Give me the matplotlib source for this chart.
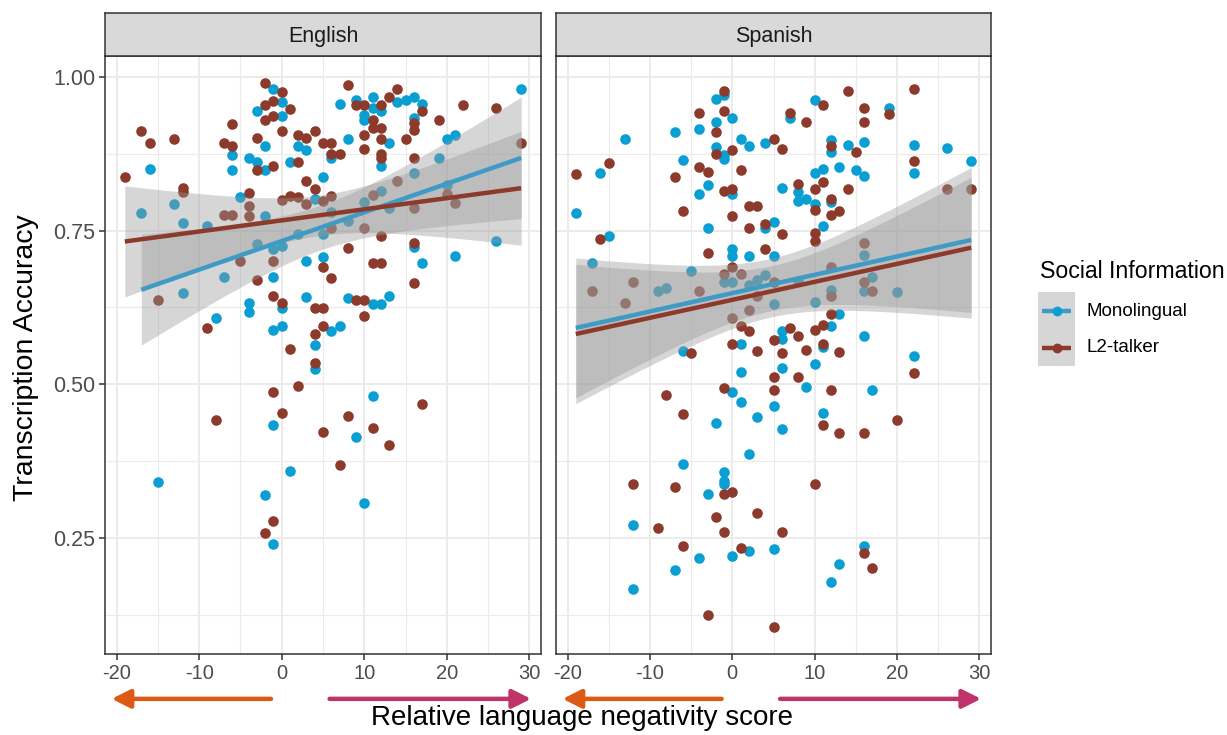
import numpy as np
import matplotlib.pyplot as plt
from matplotlib.patches import Rectangle

plt.rcParams['font.family'] = ['Liberation Sans', 'DejaVu Sans']

# ---- data: relative language negativity score vs transcription accuracy ----
en_mono_x = [-1, 0, -3, 0, -2, 2, 3, -6, -4, -3, -2, 1, -6, -16, 5, -5, -13, 4, -17, -12,
             -2, -9, -3, -1, 0, 2, 5, 3, 5, -1, -7, -12, 0, -4, -4, 3, -8, -1, 0, 4,
             4, -1, 1, -15, -2, -1, 11, 9, 10, 29, 11, 16, 15, 14, 17, 7, 9, 11, 12, 10,
             10, 16, 8, 13, 20, 21, 6, 12, 19, 16, 20, 12, 13, 10, 8, 6, 26, 21, 16, 17,
             8, 13, 11, 12, 6, 7]
en_mono_y = [0.98, 0.96, 0.944, 0.937, 0.887, 0.887, 0.881, 0.873, 0.868, 0.862, 0.849, 0.861,
             0.849, 0.85, 0.838, 0.805, 0.793, 0.802, 0.779, 0.763, 0.774, 0.757, 0.729, 0.72,
             0.725, 0.744, 0.744, 0.70, 0.707, 0.674, 0.675, 0.648, 0.624, 0.632, 0.617, 0.642,
             0.608, 0.588, 0.595, 0.564, 0.525, 0.434, 0.359, 0.34, 0.32, 0.24, 0.48, 0.414,
             0.307, 0.981, 0.968, 0.968, 0.963, 0.96, 0.956, 0.956, 0.963, 0.949, 0.944, 0.939,
             0.93, 0.933, 0.899, 0.892, 0.899, 0.905, 0.868, 0.855, 0.868, 0.843, 0.824, 0.815,
             0.786, 0.797, 0.766, 0.78, 0.733, 0.709, 0.724, 0.697, 0.64, 0.644, 0.631, 0.631,
             0.587, 0.595]

en_l2_x = [-2, 0, -1, -2, 1, -1, -2, -6, -17, 0, -16, -13, -7, -6, -3, 2, 3, 4, 5, -1,
           -3, 2, -19, 3, 4, -12, -12, -4, -4, 0, 1, 2, 3, 5, -7, -6, -4, -1, 5, -3,
           -5, -15, -1, 0, 4, 5, -9, 5, 4, 1, 4, 2, -1, 0, -8, 5, -1, -2, 17, 8,
           11, 13, 7, 8, 14, 13, 9, 10, 12, 22, 26, 11, 17, 19, 16, 16, 11, 12, 10, 12,
           15, 6, 6, 7, 10, 12, 12, 16, 14, 20, 21, 29, 11, 16, 6, 10, 6, 12, 16, 8,
           11, 12, 6, 16, 9, 10, 10]
en_l2_y = [0.99, 0.975, 0.961, 0.955, 0.948, 0.936, 0.93, 0.924, 0.912, 0.912, 0.893, 0.899,
           0.893, 0.887, 0.90, 0.906, 0.90, 0.912, 0.892, 0.855, 0.849, 0.861, 0.837, 0.83,
           0.817, 0.819, 0.813, 0.812, 0.79, 0.80, 0.807, 0.805, 0.793, 0.798, 0.775, 0.775,
           0.774, 0.70, 0.69, 0.67, 0.70, 0.637, 0.644, 0.632, 0.624, 0.624, 0.592, 0.595,
           0.581, 0.557, 0.535, 0.497, 0.488, 0.453, 0.441, 0.422, 0.277, 0.257, 0.467, 0.448,
           0.428, 0.401, 0.368, 0.987, 0.981, 0.968, 0.955, 0.955, 0.955, 0.955, 0.949, 0.93,
           0.944, 0.93, 0.925, 0.914, 0.917, 0.917, 0.905, 0.899, 0.899, 0.892, 0.874, 0.874,
           0.883, 0.874, 0.868, 0.868, 0.83, 0.81, 0.795, 0.892, 0.808, 0.786, 0.806, 0.755,
           0.755, 0.742, 0.73, 0.722, 0.697, 0.697, 0.673, 0.665, 0.637, 0.637, 0.611]

es_mono_x = [-2, -1, 0, -2, -7, -4, -13, 1, 2, 4, -2, -1, -1, -6, -16, -3, -4, 0, -19, -3,
             4, 5, -15, 0, 0, 2, 5, -17, -5, -9, -8, -1, 0, 2, 3, 4, 5, 1, -6, 1,
             0, 1, 3, -2, 2, -6, -1, -1, -1, -3, -12, 2, 0, -4, -7, -12, 10, 19, 7, 12,
             12, 14, 16, 22, 26, 29, 22, 13, 10, 11, 15, 16, 6, 8, 8, 9, 10, 12, 11, 16,
             17, 8, 12, 16, 20, 10, 13, 12, 6, 6, 16, 11, 22, 6, 10, 9, 17, 5, 11, 6,
             5, 16, 13, 12]
es_mono_y = [0.965, 0.97, 0.934, 0.927, 0.911, 0.915, 0.899, 0.899, 0.888, 0.892, 0.886, 0.873,
             0.866, 0.865, 0.843, 0.824, 0.809, 0.809, 0.778, 0.754, 0.754, 0.764, 0.742, 0.72,
             0.709, 0.709, 0.709, 0.697, 0.685, 0.651, 0.656, 0.667, 0.667, 0.661, 0.669, 0.677,
             0.63, 0.565, 0.554, 0.52, 0.488, 0.471, 0.447, 0.437, 0.386, 0.37, 0.357, 0.343,
             0.337, 0.321, 0.271, 0.228, 0.221, 0.217, 0.197, 0.167, 0.963, 0.95, 0.933, 0.897,
             0.878, 0.889, 0.894, 0.889, 0.885, 0.864, 0.843, 0.854, 0.843, 0.85, 0.848, 0.839,
             0.819, 0.813, 0.799, 0.802, 0.794, 0.796, 0.757, 0.71, 0.675, 0.668, 0.654, 0.651,
             0.65, 0.634, 0.614, 0.595, 0.586, 0.573, 0.578, 0.56, 0.546, 0.527, 0.533, 0.496,
             0.49, 0.465, 0.453, 0.427, 0.232, 0.237, 0.207, 0.178]

es_l2_x = [-1, -4, -1, -2, 5, 0, -2, -15, -19, -4, -3, -7, 1, -1, 0, 2, 3, -6, 0, 2,
           4, -16, -3, 4, 0, -1, 1, -12, -17, -4, -13, 5, 3, 0, 2, 1, 2, 5, 0, -5,
           3, -1, -8, -6, -7, -12, -1, 0, 3, -2, -9, -1, -6, 1, -3, 14, 22, 11, 16, 19,
           7, 9, 16, 6, 12, 15, 22, 8, 11, 10, 14, 26, 29, 12, 10, 12, 13, 6, 10, 10,
           16, 12, 16, 12, 17, 12, 11, 10, 7, 8, 11, 9, 13, 6, 22, 5, 8, 5, 12, 11,
           20, 13, 16, 10, 6, 16, 17, 5]
es_l2_y = [0.977, 0.941, 0.944, 0.911, 0.899, 0.882, 0.874, 0.86, 0.842, 0.853, 0.846, 0.837,
           0.848, 0.815, 0.818, 0.79, 0.79, 0.782, 0.773, 0.754, 0.76, 0.736, 0.714, 0.72,
           0.69, 0.68, 0.68, 0.667, 0.651, 0.651, 0.632, 0.667, 0.643, 0.607, 0.62, 0.594,
           0.586, 0.572, 0.565, 0.551, 0.554, 0.494, 0.482, 0.452, 0.332, 0.337, 0.321, 0.324,
           0.29, 0.283, 0.266, 0.26, 0.237, 0.233, 0.125, 0.977, 0.981, 0.955, 0.949, 0.94,
           0.941, 0.926, 0.926, 0.883, 0.887, 0.878, 0.864, 0.826, 0.829, 0.818, 0.818, 0.817,
           0.818, 0.802, 0.783, 0.775, 0.782, 0.745, 0.746, 0.733, 0.73, 0.69, 0.667, 0.643,
           0.651, 0.614, 0.597, 0.588, 0.592, 0.578, 0.565, 0.555, 0.553, 0.55, 0.519, 0.512,
           0.512, 0.49, 0.49, 0.433, 0.442, 0.421, 0.421, 0.338, 0.26, 0.225, 0.201, 0.105]

languages = ['English', 'Spanish']
groups = ['Monolingual', 'L2-talker']

POINT_COLORS = {'Monolingual': '#0A9FD2', 'L2-talker': '#8B3A2B'}
LINE_COLORS = {'Monolingual': '#3F9BC6', 'L2-talker': '#8B3A2B'}
ORANGE = '#DC5A14'
PINK = '#C0336A'
T_CRIT = 1.98  # approx. t quantile for 95% band at n ~ 100

W, H = 1227, 735


def px_axes(fig, left, top, right, bottom):
    return fig.add_axes([left / W, 1 - bottom / H, (right - left) / W, (bottom - top) / H])


def smooth(x, y):
    x = np.asarray(x, float)
    y = np.asarray(y, float)
    slope, icept = np.polyfit(x, y, 1)
    n = len(x)
    resid = y - (icept + slope * x)
    s = np.sqrt(np.sum(resid ** 2) / (n - 2))
    xs = np.linspace(x.min(), x.max(), 80)
    fit = icept + slope * xs
    se = s * np.sqrt(1 / n + (xs - x.mean()) ** 2 / np.sum((x - x.mean()) ** 2))
    return xs, fit, fit - T_CRIT * se, fit + T_CRIT * se


data = {
    ('English', 'Monolingual'): (en_mono_x, en_mono_y),
    ('English', 'L2-talker'): (en_l2_x, en_l2_y),
    ('Spanish', 'Monolingual'): (es_mono_x, es_mono_y),
    ('Spanish', 'L2-talker'): (es_l2_x, es_l2_y),
}

all_x = np.concatenate([v[0] for v in data.values()])
all_y = np.concatenate([v[1] for v in data.values()])
xpad = 0.05 * (all_x.max() - all_x.min())
ypad = 0.05 * (all_y.max() - all_y.min())
xlim = (all_x.min() - xpad, all_x.max() + xpad)
ylim = (all_y.min() - ypad, all_y.max() + ypad)

fig = plt.figure(figsize=(W / 100, H / 100), dpi=100)

panel_px = [(105, 541), (556, 991)]
for i, lang in enumerate(languages):
    l, r = panel_px[i]
    ax = px_axes(fig, l, 56, r, 654)
    strip = px_axes(fig, l, 13, r, 56)

    ax.set_xlim(xlim)
    ax.set_ylim(ylim)
    ax.set_xticks([-20, -10, 0, 10, 20, 30])
    ax.set_xticks([-15, -5, 5, 15, 25], minor=True)
    ax.set_yticks([0.25, 0.5, 0.75, 1.0])
    ax.set_yticks([0.125, 0.375, 0.625, 0.875], minor=True)
    ax.set_xticklabels(['-20', '-10', '0', '10', '20', '30'])
    ax.grid(which='major', color='#EBEBEB', lw=1.4, zorder=0)
    ax.grid(which='minor', color='#EBEBEB', lw=0.8, zorder=0)
    ax.set_axisbelow(True)
    ax.tick_params(which='major', length=4, width=1.1, color='#333333',
                   labelsize=14.5, labelcolor='#4D4D4D', pad=3)
    ax.tick_params(axis='y', labelsize=15.5)
    ax.tick_params(which='minor', length=0)
    if i == 0:
        ax.set_yticklabels(['0.25', '0.50', '0.75', '1.00'])
    else:
        ax.set_yticklabels([])
        ax.tick_params(axis='y', which='major', length=0)
    for sp in ax.spines.values():
        sp.set_color('#333333')
        sp.set_linewidth(1.1)

    for g in groups:
        x, y = data[(lang, g)]
        ax.scatter(x, y, s=58, color=POINT_COLORS[g], lw=0, zorder=2)
    for g in groups:
        x, y = data[(lang, g)]
        xs, fit, lo, hi = smooth(x, y)
        ax.fill_between(xs, lo, hi, color='#999999', alpha=0.4, lw=0, zorder=3)
    for g in groups:
        x, y = data[(lang, g)]
        xs, fit, lo, hi = smooth(x, y)
        ax.plot(xs, fit, color=LINE_COLORS[g], lw=3.2, zorder=4, solid_capstyle='butt')

    # direction arrows under the axis
    for x0, x1, col in [(-1.3, -20.6, ORANGE), (5.8, 30.2, PINK)]:
        ax.annotate('', xy=(x1, -0.075), xytext=(x0, -0.075),
                    xycoords=('data', 'axes fraction'), textcoords=('data', 'axes fraction'),
                    arrowprops=dict(arrowstyle='-|>', color=col, lw=3.2,
                                    mutation_scale=28, shrinkA=0, shrinkB=0),
                    annotation_clip=False)

    strip.set_facecolor('#D9D9D9')
    strip.set_xticks([])
    strip.set_yticks([])
    for sp in strip.spines.values():
        sp.set_color('#333333')
        sp.set_linewidth(1.1)
    strip.text(0.5, 0.46, lang, ha='center', va='center', fontsize=15.5, color='#1A1A1A',
               transform=strip.transAxes)

fig.text(582 / W, 1 - 718 / H, 'Relative language negativity score', ha='center', va='center',
         fontsize=20)
fig.text(26 / W, 1 - 358 / H, 'Transcription Accuracy', ha='center', va='center',
         rotation=90, fontsize=20.5)

# legend
fig.text(1040 / W, 1 - 271 / H, 'Social Information', ha='left', va='center', fontsize=16.7)
for k, g in enumerate(groups):
    top = 292 + 37 * k
    key = px_axes(fig, 1038, top, 1075, top + 37)
    key.set_xlim(0, 1)
    key.set_ylim(0, 1)
    key.axis('off')
    key.add_patch(Rectangle((0, 0), 1, 1, color='#D6D6D6', lw=0))
    key.plot([0.1, 0.9], [0.5, 0.5], color=LINE_COLORS[g], lw=3.2, solid_capstyle='butt')
    key.scatter([0.5], [0.5], s=50, color=POINT_COLORS[g], lw=0, zorder=3)
    fig.text(1087 / W, 1 - (top + 19) / H, g, ha='left', va='center', fontsize=13.5)

fig.savefig('out.png', dpi=100)
